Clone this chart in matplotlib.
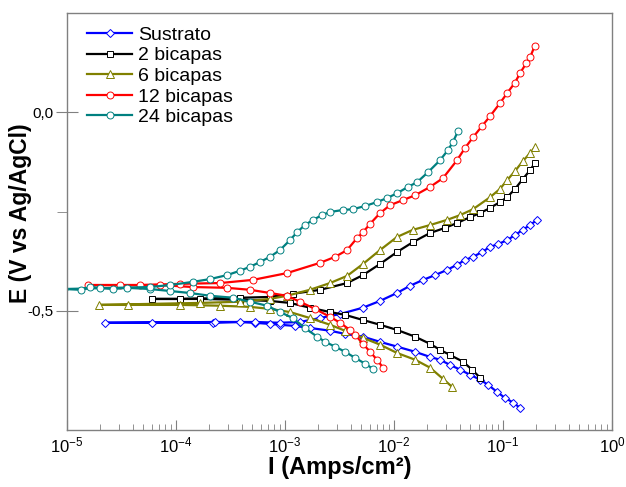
import matplotlib
matplotlib.use("Agg")
import matplotlib.pyplot as plt
from matplotlib.ticker import FixedLocator, FuncFormatter, LogLocator, NullFormatter

plt.rcParams["font.family"] = ["Liberation Sans", "DejaVu Sans"]

# Sustrato
sus_i = [0.143, 0.124, 0.104, 0.0881, 0.0728, 0.0615, 0.0498, 0.0404, 0.0326, 0.0264,
         0.0214, 0.0156, 0.01065, 7.44e-3, 5.19e-3, 3.55e-3, 2.59e-3, 1.69e-3, 1.24e-3, 8.99e-4,
         7.27e-4, 5.31e-4, 3.86e-4, 2.18e-4, 6.02e-5, 2.23e-5,
         2.28e-4, 5.31e-4, 8.99e-4, 1.37e-3, 2.10e-3, 3.20e-3, 5.19e-3, 7.44e-3, 0.01065, 0.0140,
         0.0185, 0.0238, 0.0306, 0.0378, 0.0448, 0.0531, 0.0641, 0.0760, 0.0900, 0.109,
         0.129, 0.152, 0.177, 0.205]
sus_E = [-0.744, -0.731, -0.719, -0.704, -0.686, -0.673, -0.661, -0.648, -0.636, -0.623,
         -0.616, -0.603, -0.590, -0.578, -0.565, -0.558, -0.550, -0.543, -0.538, -0.535,
         -0.533, -0.530, -0.528, -0.530, -0.530, -0.530,
         -0.528, -0.528, -0.530, -0.528, -0.518, -0.508, -0.492, -0.475, -0.455, -0.437,
         -0.422, -0.410, -0.397, -0.384, -0.372, -0.364, -0.352, -0.339, -0.332, -0.322,
         -0.309, -0.296, -0.284, -0.271]

# 2 bicapas
b2_i = [0.0615, 0.0519, 0.0430, 0.0326, 0.0264, 0.0214, 0.0156, 0.01065, 7.44e-3, 5.19e-3,
        3.55e-3, 2.59e-3, 1.69e-3, 1.11e-3, 7.27e-4, 3.86e-4, 1.66e-4, 6.02e-5,
        1.09e-4, 3.86e-4, 7.27e-4, 1.18e-3, 2.10e-3, 3.71e-3, 5.19e-3, 7.44e-3, 0.01065, 0.0149,
        0.0214, 0.0294, 0.0378, 0.0498, 0.0615, 0.0760, 0.0938, 0.109, 0.129, 0.152,
        0.177, 0.196]
b2_E = [-0.668, -0.648, -0.628, -0.611, -0.598, -0.583, -0.565, -0.548, -0.535, -0.523,
        -0.510, -0.503, -0.492, -0.480, -0.475, -0.472, -0.470, -0.470,
        -0.470, -0.467, -0.465, -0.457, -0.447, -0.430, -0.410, -0.382, -0.352, -0.327,
        -0.304, -0.291, -0.279, -0.264, -0.254, -0.241, -0.226, -0.214, -0.193, -0.168,
        -0.146, -0.128]

# 6 bicapas
b6_i = [0.0340, 0.0281, 0.0214, 0.0156, 0.01065, 7.44e-3, 5.19e-3, 3.55e-3, 2.59e-3, 1.69e-3,
        1.11e-3, 7.27e-4, 4.78e-4, 2.53e-4, 1.09e-4, 3.63e-5, 1.97e-5,
        1.66e-4, 3.86e-4, 7.27e-4, 1.04e-3, 1.69e-3, 2.59e-3, 3.71e-3, 5.19e-3, 7.44e-3, 0.01065,
        0.0149, 0.0214, 0.0306, 0.0404, 0.0531, 0.0760, 0.0938, 0.109, 0.129, 0.152,
        0.177, 0.196]
b6_E = [-0.691, -0.671, -0.643, -0.623, -0.606, -0.585, -0.568, -0.550, -0.535, -0.518,
        -0.503, -0.495, -0.490, -0.487, -0.485, -0.485, -0.485,
        -0.480, -0.477, -0.470, -0.462, -0.447, -0.430, -0.412, -0.382, -0.347, -0.314,
        -0.296, -0.284, -0.271, -0.259, -0.244, -0.214, -0.193, -0.171, -0.148, -0.123,
        -0.103, -0.088]

# 12 bicapas
b12_i = [7.93e-3, 6.98e-3, 6.03e-3, 5.19e-3, 4.38e-3, 3.94e-3, 3.20e-3, 2.59e-3, 1.88e-3, 1.37e-3,
         1.04e-3, 7.27e-4, 4.78e-4, 2.94e-4, 1.43e-4, 7.13e-5, 3.06e-5, 1.56e-5,
         4.67e-5, 1.09e-4, 2.53e-4, 5.08e-4, 1.04e-3, 2.10e-3, 2.88e-3, 3.71e-3, 4.57e-3, 5.19e-3,
         6.03e-3, 7.44e-3, 9.19e-3, 0.0121, 0.0156, 0.0214, 0.0281, 0.0378, 0.0448, 0.0531,
         0.0641, 0.0760, 0.0938, 0.109, 0.129, 0.143, 0.163, 0.177, 0.196]
b12_E = [-0.643, -0.623, -0.603, -0.583, -0.560, -0.548, -0.530, -0.515, -0.495, -0.477,
         -0.462, -0.455, -0.447, -0.442, -0.440, -0.435, -0.435, -0.435,
         -0.435, -0.432, -0.430, -0.422, -0.405, -0.379, -0.364, -0.347, -0.317, -0.302,
         -0.281, -0.254, -0.234, -0.221, -0.209, -0.188, -0.166, -0.121, -0.090, -0.063,
         -0.035, -0.010, 0.023, 0.048, 0.075, 0.098, 0.123, 0.138, 0.168]

# 24 bicapas
b24_i = [6.41e-3, 5.42e-3, 4.38e-3, 3.55e-3, 2.88e-3, 2.33e-3, 1.97e-3, 1.52e-3, 1.18e-3, 8.99e-4,
         6.84e-4, 4.78e-4, 3.33e-4, 2.05e-4, 1.34e-4, 8.81e-5, 5.77e-5, 3.55e-5, 2.64e-5, 2.01e-5,
         1.63e-5, 1.34e-5, 9.4e-6,
         5.77e-5, 8.81e-5, 1.43e-4, 2.05e-4, 2.94e-4, 3.86e-4, 4.78e-4, 5.90e-4, 7.27e-4, 8.99e-4,
         1.11e-3, 1.29e-3, 1.52e-3, 1.81e-3, 2.18e-3, 2.59e-3, 3.40e-3, 4.21e-3, 5.42e-3, 6.98e-3,
         8.63e-3, 0.01065, 0.0134, 0.0163, 0.0205, 0.0264, 0.0313, 0.0347, 0.0386]
b24_E = [-0.646, -0.633, -0.618, -0.603, -0.590, -0.578, -0.565, -0.543, -0.518, -0.503,
         -0.487, -0.477, -0.467, -0.462, -0.455, -0.450, -0.445, -0.442, -0.445, -0.442,
         -0.440, -0.447, -0.445,
         -0.440, -0.435, -0.427, -0.420, -0.410, -0.399, -0.389, -0.377, -0.364, -0.347,
         -0.322, -0.302, -0.284, -0.271, -0.259, -0.251, -0.246, -0.244, -0.236, -0.226,
         -0.216, -0.204, -0.188, -0.176, -0.151, -0.121, -0.095, -0.075, -0.048]

series = [
    ("Sustrato", sus_i, sus_E, "#0000ff", "D", 4.5),
    ("2 bicapas", b2_i, b2_E, "#000000", "s", 4.5),
    ("6 bicapas", b6_i, b6_E, "#808000", "^", 5.5),
    ("12 bicapas", b12_i, b12_E, "#ff0000", "o", 5.0),
    ("24 bicapas", b24_i, b24_E, "#008080", "o", 5.0),
]

fig = plt.figure(figsize=(6.26, 4.87), dpi=100)
ax = fig.add_axes([67 / 626, 1 - 430 / 487, 545 / 626, 417 / 487])

for label, xi, ye, col, mk, ms in series:
    ax.plot(xi, ye, color=col, lw=1.6, marker=mk, ms=ms, mfc="white",
            mec=col, mew=0.7, label=label)

ax.set_xscale("log")
ax.set_xlim(1e-5, 1)
ax.set_ylim(-0.8, 0.25)

ax.xaxis.set_major_locator(LogLocator(base=10, numticks=10))
ax.xaxis.set_minor_locator(LogLocator(base=10, subs=range(2, 10), numticks=10))
ax.xaxis.set_minor_formatter(NullFormatter())
ax.yaxis.set_major_locator(FixedLocator([-0.5, 0.0]))
ax.yaxis.set_minor_locator(FixedLocator([-0.25]))
ax.yaxis.set_major_formatter(FuncFormatter(lambda v, p: f"{v:.1f}".replace(".", ",").replace("-0,0", "0,0")))

for s in ax.spines.values():
    s.set_color("#808080")
    s.set_linewidth(1.0)
ax.tick_params(axis="x", which="major", direction="in", length=7, color="#808080", labelsize=12, pad=4)
ax.tick_params(axis="x", which="minor", direction="in", length=4, color="#808080")
ax.tick_params(axis="y", which="major", direction="inout", length=16, color="#808080", labelsize=11, pad=2)
ax.tick_params(axis="y", which="minor", direction="out", length=7, color="#808080")

ax.set_xlabel("I (Amps/cm²)", fontsize=17, fontweight="bold")
ax.set_ylabel("E (V vs Ag/AgCl)", fontsize=16.5, fontweight="bold")
ax.xaxis.set_label_coords(0.5, -0.062)
ax.yaxis.set_label_coords(-0.064, 0.52)

ax.legend(loc="upper left", bbox_to_anchor=(0.037, 0.968), frameon=False, fontsize=14,
          borderaxespad=0, borderpad=0, handlelength=2.3, handletextpad=0.3,
          labelspacing=0.15, numpoints=1)

fig.savefig("out.png", dpi=100, facecolor="white")
